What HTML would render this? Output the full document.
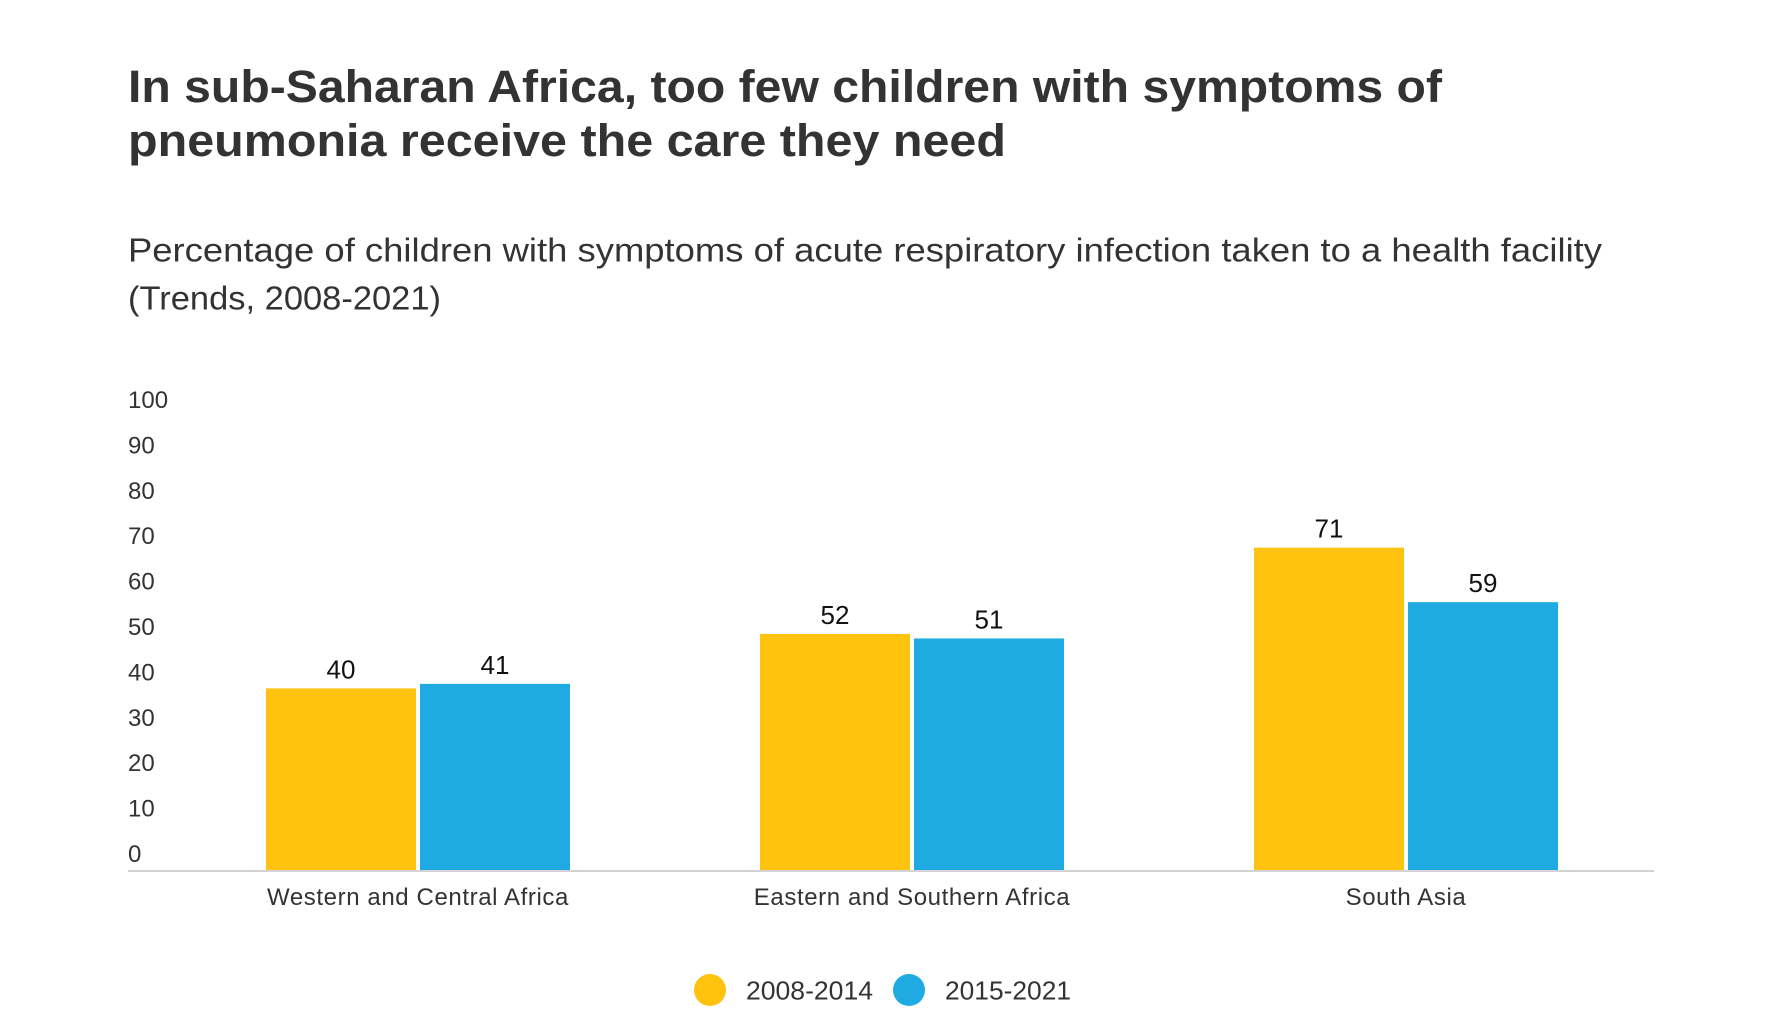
<!DOCTYPE html>
<html lang="en">
<head>
<meta charset="utf-8">
<title>Pneumonia care in sub-Saharan Africa</title>
<style>
html,body{margin:0;padding:0;background:#fff;}
svg{display:block;font-family:"Liberation Sans",sans-serif;}
</style>
</head>
<body>
<svg id="chart" xmlns="http://www.w3.org/2000/svg" width="1778" height="1030" viewBox="0 0 1778 1030">
  <rect x="0" y="0" width="1778" height="1030" fill="#ffffff"/>
  <text x="128" y="102" font-size="45" font-weight="700" fill="#333333" textLength="1314" lengthAdjust="spacingAndGlyphs">In sub-Saharan Africa, too few children with symptoms of</text>
  <text x="128" y="156" font-size="45" font-weight="700" fill="#333333" textLength="878" lengthAdjust="spacingAndGlyphs">pneumonia receive the care they need</text>
  <text x="128" y="261.5" font-size="33" fill="#333333" textLength="1474" lengthAdjust="spacingAndGlyphs">Percentage of children with symptoms of acute respiratory infection taken to a health facility</text>
  <text x="128" y="309.5" font-size="33" fill="#333333" textLength="313" lengthAdjust="spacingAndGlyphs">(Trends, 2008-2021)</text>
  <g id="y-ticks"></g>
  <g id="bars"></g>
  <g id="value-labels"></g>
  <line x1="128" y1="871" x2="1654" y2="871" stroke="#d3d3d3" stroke-width="2"/>
  <g id="x-labels"></g>
  <g>
    <g>
      <circle cx="710" cy="990" r="16" fill="#FFC20E"/>
      <text x="746" y="999.5" font-size="26" fill="#333333" textLength="127" lengthAdjust="spacingAndGlyphs">2008-2014</text>
    </g>
    <g>
      <circle cx="909" cy="990" r="16" fill="#1FABE2"/>
      <text x="945" y="999.5" font-size="26" fill="#333333" textLength="126" lengthAdjust="spacingAndGlyphs">2015-2021</text>
    </g>
  </g>
</svg>
<script>
const categories = ["Western and Central Africa", "Eastern and Southern Africa", "South Asia"];
const series2008to2014 = [40, 52, 71];
const series2015to2021 = [41, 51, 59];
const yTickLabels = [0, 10, 20, 30, 40, 50, 60, 70, 80, 90, 100];

const NS = "http://www.w3.org/2000/svg";
const yBase = 870;
const yMaxPx = 416;
const bandStart = 171;
const bandEnd = 1653;
const barWidth = 150;
const barGap = 4;

function yScale(v) {
  return yBase - (v / 100) * (yBase - yMaxPx);
}
function bandCenter(i) {
  const step = (bandEnd - bandStart) / categories.length;
  return bandStart + step * (i + 0.5);
}

const tickGroup = document.getElementById("y-ticks");
yTickLabels.forEach(function (t) {
  const el = document.createElementNS(NS, "text");
  
  
  el.setAttribute("x", 128);
  el.setAttribute("y", yScale(t) - 8);
  el.setAttribute("font-size", 24);
  el.setAttribute("fill", "#333333");
  el.textContent = t;
  tickGroup.appendChild(el);
});

const barGroup = document.getElementById("bars");
const valueGroup = document.getElementById("value-labels");
function drawSeries(values, color, side) {
  values.forEach(function (v, i) {
    const left = side < 0
      ? bandCenter(i) - barGap / 2 - barWidth
      : bandCenter(i) + barGap / 2;
    const rect = document.createElementNS(NS, "rect");
    
    
    rect.setAttribute("x", left);
    rect.setAttribute("y", yScale(v));
    rect.setAttribute("width", barWidth);
    rect.setAttribute("height", yBase - yScale(v));
    rect.setAttribute("fill", color);
    barGroup.appendChild(rect);

    const label = document.createElementNS(NS, "text");
    
    
    label.setAttribute("x", left + barWidth / 2);
    label.setAttribute("y", yScale(v) - 10);
    label.setAttribute("font-size", 26);
    label.setAttribute("text-anchor", "middle");
    label.setAttribute("fill", "#111111");
    label.textContent = v;
    valueGroup.appendChild(label);
  });
}
drawSeries(series2008to2014, "#FFC20E", -1);
drawSeries(series2015to2021, "#1FABE2", 1);

const xLabelGroup = document.getElementById("x-labels");
categories.forEach(function (c, i) {
  const el = document.createElementNS(NS, "text");
  
  
  el.setAttribute("x", bandCenter(i));
  el.setAttribute("y", 905);
  el.setAttribute("font-size", 24);
  el.setAttribute("letter-spacing", "0.6");
  el.setAttribute("text-anchor", "middle");
  el.setAttribute("fill", "#333333");
  el.textContent = c;
  xLabelGroup.appendChild(el);
});
</script>
</body>
</html>
